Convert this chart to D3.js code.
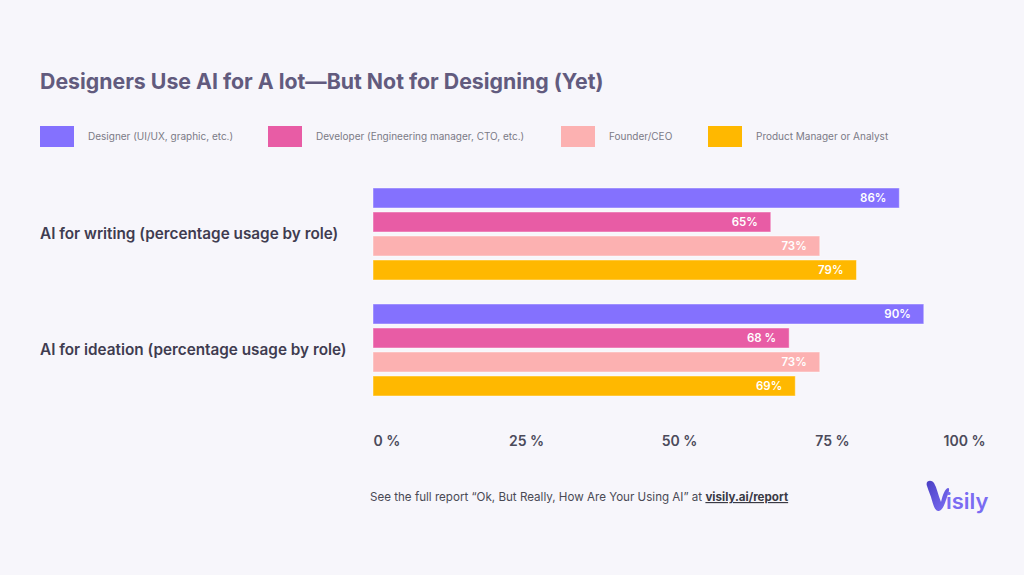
<!DOCTYPE html>
<html>
<head>
<meta charset="utf-8">
<script src="https://cdn.jsdelivr.net/npm/d3@7"></script>
<style>
  html, body { margin: 0; padding: 0; background: #f7f6fb; }
  svg { display: block; }
</style>
</head>
<body>
<div id="chart"></div>
<script>
const categories = ["AI for writing (percentage usage by role)", "AI for ideation (percentage usage by role)"];
const series = ["Designer (UI/UX, graphic, etc.)", "Developer (Engineering manager, CTO, etc.)", "Founder/CEO", "Product Manager or Analyst"];
const writingValues = [86, 65, 73, 79];
const ideationValues = [90, 68, 73, 69];
const writingLabels = ["86%", "65%", "73%", "79%"];
const ideationLabels = ["90%", "68 %", "73%", "69%"];
const tickValues = [0, 25, 50, 75, 100];
const tickLabels = ["0 %", "25 %", "50 %", "75 %", "100 %"];
const colors = ["#8471fe", "#e85ca5", "#fcb1b1", "#ffb800"];

const W = 1024, H = 575;
const svg = d3.select("#chart").append("svg").attr("width", W).attr("height", H);
svg.append("rect").attr("width", W).attr("height", H).attr("fill", "#f7f6fb");

const font = "Inter, 'Noto Sans', sans-serif";

// Title
svg.append("text").attr("x", 40).attr("y", 89)
  .attr("font-family", font).attr("font-weight", 700).attr("font-size", 21.3)
  .attr("fill", "#625b7e").text("Designers Use AI for A lot\u2014But Not for Designing (Yet)");

// Legend
const legendX = [40, 268, 561, 708];
const lg = svg.append("g");
series.forEach((s, i) => {
  lg.append("rect").attr("x", legendX[i]).attr("y", 126).attr("width", 34).attr("height", 21)
    .attr("fill", colors[i]);
  lg.append("text").attr("x", legendX[i] + 48).attr("y", 139.5)
    .attr("font-family", font).attr("font-size", 10).attr("fill", "#7b7a86")
    .text(s);
});

// Scales
const x = d3.scaleLinear().domain([0, 100]).range([373, 985]);
const y0 = d3.scaleBand().domain(categories).range([188, 396]).paddingInner(24 / 116).paddingOuter(0);
const y1 = d3.scaleBand().domain(series).range([0, y0.bandwidth()]).paddingInner(4 / 24).paddingOuter(0);

const data = categories.map((c, ci) => ({
  cat: c,
  values: series.map((s, si) => ({
    s, si,
    v: ci === 0 ? writingValues[si] : ideationValues[si],
    label: ci === 0 ? writingLabels[si] : ideationLabels[si]
  }))
}));

const groups = svg.append("g").selectAll("g").data(data).join("g")
  .attr("transform", d => `translate(0,${y0(d.cat)})`);

groups.selectAll("rect").data(d => d.values).join("rect")
  .attr("x", x(0))
  .attr("y", d => y1(d.s))
  .attr("width", d => x(d.v) - x(0))
  .attr("height", y1.bandwidth())
  .attr("fill", d => colors[d.si])
  .attr("stroke", "#ffffff").attr("stroke-opacity", 0.45).attr("stroke-width", 1);

groups.selectAll("text.val").data(d => d.values).join("text")
  .attr("class", "val")
  .attr("x", d => x(d.v) - 13)
  .attr("y", d => y1(d.s) + y1.bandwidth() / 2)
  .attr("dy", "0.36em")
  .attr("text-anchor", "end")
  .attr("font-family", font).attr("font-weight", 600).attr("font-size", 11.5)
  .attr("fill", "#ffffff")
  .text(d => d.label);

// Category labels
svg.append("g").selectAll("text").data(categories).join("text")
  .attr("x", 40)
  .attr("y", d => y0(d) + y0.bandwidth() / 2)
  .attr("dy", "0.35em")
  .attr("font-family", font).attr("font-weight", 600).attr("font-size", 15.3)
  .attr("fill", "#3f3c50")
  .text(d => d);

// X axis
const axis = d3.axisBottom(x).tickValues(tickValues)
  .tickFormat((d, i) => tickLabels[i]).tickSize(0).tickPadding(0);
const ax = svg.append("g").attr("transform", "translate(0,436)").call(axis);
ax.select(".domain").remove();
ax.selectAll("text")
  .attr("font-family", font).attr("font-weight", 600).attr("font-size", 14)
  .attr("fill", "#4b4a5a")
  .attr("dy", "0.71em")
  .attr("text-anchor", (d, i) => i === 0 ? "start" : (i === tickValues.length - 1 ? "end" : "middle"));

// Footer
const foot = svg.append("text").attr("x", 370).attr("y", 501)
  .attr("font-family", font).attr("font-size", 11.6).attr("fill", "#4a4a55");
foot.append("tspan").text("See the full report \u201COk, But Really, How Are Your Using AI\u201D at ");
foot.append("tspan").attr("font-weight", 700).attr("fill", "#3a3a45")
  .attr("text-decoration", "underline").text("visily.ai/report");

// Logo
const logo = svg.append("g").attr("transform", "translate(925,480)");
const grad = svg.append("defs").append("linearGradient").attr("id", "lg1")
  .attr("x1", "0").attr("y1", "0").attr("x2", "1").attr("y2", "1");
grad.append("stop").attr("offset", "0").attr("stop-color", "#4a3fc4");
grad.append("stop").attr("offset", "1").attr("stop-color", "#7d6ff5");
logo.append("path")
  .attr("d", "M2,6 C0,1 6,-1 9,3 C12,8 13,15 16,22 C18,14 20,9 23,8 C25,8 24,12 22,17 C20,23 18,30 14,31 C10,32 8,24 6,17 C4,12 3,9 2,6 Z")
  .attr("fill", "url(#lg1)");
logo.append("text").attr("x", 21).attr("y", 29)
  .attr("font-family", font).attr("font-weight", 600).attr("font-size", 22)
  .attr("fill", "#7a6cf2").text("isily");
</script>
</body>
</html>
